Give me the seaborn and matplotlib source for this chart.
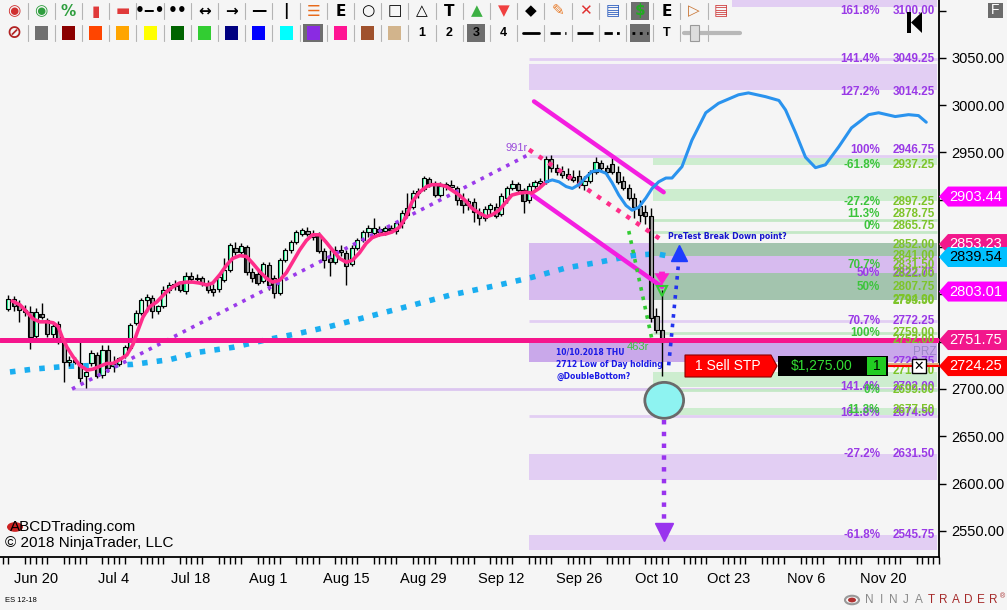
import matplotlib
matplotlib.use('Agg')
import matplotlib.pyplot as plt
import matplotlib.patches as mpatches
import matplotlib.transforms as mtrans
from matplotlib.lines import Line2D
import numpy as np
import pandas as pd
import seaborn as sns

sns.set_theme(style='white')
plt.rcParams['font.family'] = ['Liberation Sans', 'DejaVu Sans']

# ---------------- data (ES 12-18) ----------------
start = pd.Timestamp('2018-06-20')
bar_dates = pd.date_range('2018-06-15', '2018-10-11', freq='D')

opens = [2785, 2795, 2789, 2783, 2781, 2756, 2779, 2773, 2758, 2769,
         2750, 2729, 2731, 2727, 2714, 2727, 2736, 2715, 2741, 2724,
         2726, 2736, 2743, 2770, 2780, 2794, 2796, 2782, 2788, 2805,
         2809, 2812, 2804, 2819, 2816, 2817, 2812, 2806, 2806, 2815,
         2826, 2849, 2845, 2850, 2824, 2822, 2814, 2831, 2817, 2801,
         2836, 2847, 2855, 2864, 2867, 2864, 2862, 2846, 2838, 2834,
         2847, 2844, 2832, 2849, 2857, 2866, 2865, 2869, 2867, 2870,
         2867, 2875, 2884, 2892, 2907, 2911, 2922, 2917, 2905, 2915,
         2916, 2912, 2900, 2894, 2898, 2887, 2881, 2890, 2892, 2885,
         2902, 2912, 2917, 2910, 2900, 2915, 2918, 2919, 2943, 2934,
         2930, 2927, 2924, 2925, 2916, 2920, 2929, 2939, 2934, 2938,
         2929, 2920, 2912, 2902, 2893, 2887, 2883, 2777, 2762]
highs = [2799, 2798, 2794, 2789, 2788, 2786, 2791, 2775, 2771, 2772,
         2752, 2735, 2734, 2754, 2720, 2741, 2739, 2747, 2747, 2735,
         2734, 2747, 2770, 2783, 2796, 2800, 2799, 2789, 2809, 2813,
         2815, 2814, 2824, 2824, 2822, 2819, 2815, 2811, 2821, 2838,
         2854, 2855, 2854, 2852, 2828, 2826, 2834, 2834, 2821, 2838,
         2849, 2857, 2868, 2870, 2871, 2868, 2866, 2849, 2847, 2851,
         2852, 2847, 2852, 2860, 2868, 2873, 2881, 2872, 2872, 2873,
         2878, 2889, 2907, 2910, 2912, 2925, 2924, 2920, 2919, 2919,
         2921, 2915, 2907, 2902, 2902, 2891, 2893, 2897, 2897, 2907,
         2915, 2921, 2919, 2912, 2918, 2921, 2923, 2946, 2947, 2938,
         2936, 2934, 2931, 2931, 2925, 2931, 2945, 2942, 2937, 2947,
         2936, 2925, 2917, 2907, 2900, 2894, 2891, 2786, 2805]
lows = [2782, 2782, 2771, 2777, 2742, 2752, 2774, 2755, 2754, 2748,
        2707, 2724, 2726, 2707, 2701, 2724, 2712, 2712, 2718, 2718,
        2724, 2733, 2741, 2768, 2778, 2781, 2775, 2779, 2786, 2801,
        2805, 2803, 2800, 2813, 2812, 2809, 2801, 2798, 2803, 2813,
        2824, 2842, 2843, 2821, 2813, 2810, 2812, 2805, 2796, 2799,
        2834, 2844, 2853, 2862, 2862, 2857, 2844, 2828, 2819, 2832,
        2841, 2810, 2830, 2847, 2855, 2861, 2863, 2862, 2863, 2865,
        2864, 2870, 2882, 2890, 2902, 2909, 2914, 2903, 2903, 2910,
        2910, 2894, 2886, 2889, 2877, 2873, 2878, 2885, 2881, 2883,
        2897, 2910, 2906, 2886, 2897, 2910, 2915, 2917, 2929, 2926,
        2923, 2921, 2919, 2912, 2910, 2918, 2927, 2929, 2925, 2927,
        2917, 2910, 2900, 2881, 2877, 2874, 2771, 2759, 2714]
closes = [2795, 2788, 2783, 2781, 2755, 2781, 2776, 2758, 2767, 2750,
          2729, 2731, 2729, 2712, 2718, 2738, 2714, 2741, 2722, 2726,
          2733, 2744, 2768, 2780, 2794, 2797, 2782, 2788, 2805, 2810,
          2811, 2805, 2819, 2816, 2817, 2812, 2805, 2803, 2818, 2826,
          2852, 2845, 2851, 2824, 2817, 2812, 2832, 2810, 2801, 2836,
          2847, 2855, 2866, 2868, 2864, 2861, 2846, 2836, 2834, 2847,
          2845, 2830, 2849, 2857, 2866, 2870, 2870, 2866, 2870, 2868,
          2875, 2886, 2891, 2907, 2909, 2923, 2917, 2905, 2915, 2917,
          2914, 2900, 2894, 2899, 2887, 2881, 2890, 2894, 2883, 2904,
          2912, 2917, 2910, 2899, 2915, 2919, 2920, 2943, 2934, 2929,
          2926, 2923, 2921, 2916, 2920, 2929, 2940, 2934, 2929, 2929,
          2919, 2912, 2902, 2892, 2884, 2883, 2775, 2762, 2750]

# pink fast average (days since Jun 20, price)
ema_days = [-4.3, -2.9, -1.6, -0.5, 0.7, 2.0, 3.1, 4.0, 4.7, 5.6, 6.7, 7.9, 9.2, 10.3,
            11.5, 12.8, 13.9, 15.1, 16.4, 17.5, 18.4, 19.3, 20.5, 21.8, 23.6, 24.7,
            25.9, 27.2, 28.3, 29.5, 30.8, 31.9, 33.2, 34.4, 35.5, 36.8, 38.0, 39.1,
            40.4, 41.6, 42.7, 44.0, 45.2, 46.3, 47.6, 48.8, 49.9, 51.2, 52.4, 53.5,
            54.8, 56.0, 57.1, 58.4, 59.6, 60.7, 62.0, 63.2, 64.3, 65.6, 66.8, 67.9,
            69.2, 70.5, 71.5, 72.8, 74.1, 75.1, 76.4, 77.7, 78.7, 80.0, 81.3, 82.3,
            83.6, 84.9, 85.9, 87.2, 88.5, 89.5, 90.8, 92.1]
ema_vals = [2793, 2789, 2781, 2774, 2771, 2771, 2770, 2766, 2755, 2744, 2734, 2725, 2720, 2721,
            2724, 2727, 2727, 2731, 2736, 2747, 2762, 2776, 2787, 2792, 2803, 2808,
            2812, 2813, 2813, 2812, 2810, 2812, 2821, 2831, 2838, 2841, 2840, 2833,
            2824, 2817, 2813, 2815, 2823, 2834, 2847, 2857, 2863, 2863, 2855, 2847,
            2838, 2834, 2836, 2844, 2854, 2860, 2863, 2864, 2866, 2871, 2882, 2898,
            2908, 2914, 2916, 2916, 2914, 2910, 2905, 2898, 2891, 2886, 2882, 2884,
            2889, 2898, 2905, 2907, 2908, 2907, 2912, 2919]

# blue cycle projection
proj_days = [92.1, 93.2, 94.4, 95.7, 96.8, 98.0, 99.3, 100.4, 101.6, 102.9, 104.0, 105.2,
             106.5, 107.6, 108.8, 110.1, 111.2, 112.4, 113.7, 114.8, 116.6, 118.4, 120.9,
             123.2, 126.8, 128.6, 131.7, 134.1, 135.3, 137.1, 138.9, 140.7, 142.5, 144.9,
             147.2, 150.3, 152.1, 155.1, 157.5, 159.3, 160.7]
proj_vals = [2919, 2921, 2919, 2914, 2912, 2916, 2924, 2930, 2931, 2928, 2918, 2905,
             2894, 2889, 2892, 2902, 2912, 2919, 2923, 2923, 2935, 2963, 2992,
             3002, 3011, 3013, 3009, 3005, 2995, 2971, 2945, 2934, 2937, 2956,
             2976, 2990, 2992, 2988, 2990, 2989, 2982]

# light blue dotted slow average
sma_days = [-4.7, -0.5, 5.6, 11.5, 17.5, 24.1, 29.5, 35.5, 41.6, 47.6, 53.0, 65.6,
            74.6, 83.6, 89.5, 95.7, 101.6, 107.6, 111.9, 113.7]
sma_vals = [2718, 2721, 2724, 2725, 2726, 2731, 2739, 2744, 2752, 2759, 2766, 2785,
            2799, 2810, 2818, 2828, 2834, 2841, 2843, 2841]

# drawing tool lines
abcd_days, abcd_vals = [6.5, 89.0], [2700, 2948]
cd_days, cd_vals = [89.0, 113.3], [2953, 2856]
chan_up_days, chan_up_vals = [89.9, 113.3], [3004, 2908]
chan_lo_days, chan_lo_vals = [89.6, 113.0], [2905, 2808]
green_leg_days, green_leg_vals = [107.0, 111.2], [2867, 2752]
retest_days, retest_vals = [114.2, 116.1], [2725, 2840]
target_days, target_vals = [113.3, 113.3], [2667, 2552]

zone_start, green_start, top_start, swing_low_day = 89.0, 111.4, 125.6, 6.5
top_zone = (3103.5, 3115.0)
purple_zones = [(3016.0, 3043.5), (2603.75, 2631.5), (2529.75, 2545.75)]
big_zone = (2794.0, 2854.3)
prz_zone = (2728.5, 2748.6)
purple_lines = [3049.25, 2946.75, 2772.25, 2671.0]
swing_low = 2700.0
green_zones = [(2937.25, 2944.0), (2898.5, 2911.0), (2702.0, 2718.0), (2672.5, 2680.0)]
green_dark = [(2841.0, 2854.3), (2794.0, 2822.6)]
green_lines = [2878.75, 2865.75, 2759.0, 2699.0]
pink_level = 2751.75
order_level = 2724.25

purple_fibs = [('161.8%', 3100.00), ('141.4%', 3049.25), ('127.2%', 3014.25), ('100%', 2946.75),
               ('50%', 2822.75), ('70.7%', 2772.25), ('', 2728.75), ('141.4%', 2702.00),
               ('161.8%', 2674.50), ('-27.2%', 2631.50), ('-61.8%', 2545.75)]
green_fibs = [('-61.8%', 2937.25), ('-27.2%', 2897.25), ('11.3%', 2878.75), ('0%', 2865.75),
              ('', 2852.00), ('', 2841.00), ('70.7%', 2831.50), ('', 2822.00), ('50%', 2807.75),
              ('', 2794.00), ('', 2793.50), ('100%', 2759.00), ('', 2752.00), ('', 2719.50),
              ('0%', 2699.00), ('11.3%', 2677.50)]
labels_above = [2946.75, 2878.75, 2865.75]

tag_vals = [2903.44, 2853.23, 2839.54, 2803.01, 2751.75, 2724.25]
tag_fill = ['#FF00FF', '#F2178C', '#00BFFF', '#FF00FF', '#F2178C', '#FF0000']
tag_ink = ['white', 'white', 'black', 'white', 'white', 'white']

tick_dates = ['2018-06-20', '2018-07-04', '2018-07-18', '2018-08-01', '2018-08-15', '2018-08-29',
              '2018-09-12', '2018-09-26', '2018-10-10', '2018-10-23', '2018-11-06', '2018-11-20']
tick_labels = ['Jun 20', 'Jul 4', 'Jul 18', 'Aug 1', 'Aug 15', 'Aug 29',
               'Sep 12', 'Sep 26', 'Oct 10', 'Oct 23', 'Nov 6', 'Nov 20']

# ---------------- figure ----------------
BG = '#F5F5F5'
W, H = 1007, 610
fig = plt.figure(figsize=(W / 100, H / 100), dpi=100, facecolor=BG)
ax = fig.add_axes([0, 53 / H, 939 / W, 557 / H])
ax.set_facecolor(BG)
x0, x1 = -6.5, 162.7
y0, y1 = 2522.4, 3111.2
ax.set_xlim(x0, x1)
ax.set_ylim(y0, y1)
ppu = 557 / (y1 - y0)

LAV, LAV2, LAV3 = '#E2CEF3', '#D7BBEF', '#C9A8EA'
LGREEN, GGRAY = '#CDEDCF', '#A3C4AE'
PURP, GRN, GRN2 = '#9A3AE6', '#3CC43C', '#7DC42A'
PINK = '#FF2D8A'


def zone(lo, hi, left, color, z=1):
    ax.fill_between([left, x1], [lo, lo], [hi, hi], color=color, lw=0, zorder=z)


zone(*top_zone, top_start, LAV)
for lo, hi in purple_zones:
    zone(lo, hi, zone_start, LAV)
zone(*big_zone, zone_start, LAV2)
zone(*prz_zone, zone_start, LAV3)
for lo, hi in green_zones:
    zone(lo, hi, green_start, LGREEN, 1.2)
for lo, hi in green_dark:
    zone(lo, hi, green_start, GGRAY, 1.3)
for v in purple_lines:
    ax.hlines(v, zone_start, x1, color=LAV, lw=2, zorder=1.4)
ax.hlines(swing_low, swing_low_day, x1, color='#DCC6F0', lw=2, zorder=1.4)
for v in green_lines:
    ax.hlines(v, green_start, x1, color='#C4E8C6', lw=2, zorder=1.4)

# slow average under the bars
sns.lineplot(x=sma_days, y=sma_vals, ax=ax, color='#1AAEF0', lw=4, linestyle=':',
             sort=False, estimator=None, zorder=2)

# candles: two-tone bodies imitate the platform's gradient fill
days = (bar_dates - start).days.values
o, h, l, c = (np.array(a, dtype=float) for a in (opens, highs, lows, closes))
up = c >= o
bw = 0.76
ax.vlines(days, l, h, color='black', lw=1, zorder=3)
for mask, dark, light in [(up, '#1EEB8C', '#D8FCEA'), (~up, '#1C1C1C', '#A8A8A8')]:
    lo_b = np.minimum(o[mask], c[mask])
    ht = np.abs(c[mask] - o[mask])
    ax.bar(days[mask] - bw / 4, ht, bottom=lo_b, width=bw / 2, color=dark, lw=0, zorder=3.4)
    ax.bar(days[mask] + bw / 4, ht, bottom=lo_b, width=bw / 2, color=light, lw=0, zorder=3.4)
    ax.bar(days[mask], ht, bottom=lo_b, width=bw, fill=False, edgecolor='black', lw=0.8, zorder=3.5)

sns.lineplot(x=ema_days, y=ema_vals, ax=ax, color=PINK, lw=2.6, sort=False, estimator=None, zorder=5)
sns.lineplot(x=proj_days, y=proj_vals, ax=ax, color='#2A93EE', lw=2.2, sort=False, estimator=None, zorder=5)

ax.axhline(pink_level, color='#F5158C', lw=3.6, zorder=4.5)
ax.plot(abcd_days, abcd_vals, ':', color='#9B3BEA', lw=2.6, zorder=4)
ax.plot(cd_days, cd_vals, ':', color=PINK, lw=3.2, zorder=4)
ax.plot(chan_up_days, chan_up_vals, color='#F41EE0', lw=3.2, zorder=4)
ax.plot(chan_lo_days, chan_lo_vals, color='#F41EE0', lw=3.2, zorder=4)
ax.plot(green_leg_days, green_leg_vals, ':', color='#33CC33', lw=2.6, zorder=4)
ax.plot(retest_days, retest_vals, ':', color='#2233EE', lw=2.6, zorder=6)
ax.plot(retest_days[-1], retest_vals[-1] + 4, marker='^', ms=11, color='#1E3CFF', zorder=6)
ax.plot(target_days, target_vals, ':', color='#9933EE', lw=3.2, zorder=6)
ax.plot(target_days[-1], target_vals[-1] - 3, marker='v', ms=13, color='#9933EE', zorder=6)
ax.annotate('', xy=(113.0, 2807), xytext=(113.0, 2827),
            arrowprops=dict(arrowstyle='simple,head_width=0.9,head_length=0.7,tail_width=0.35',
                            color='#FF1ECF', lw=0), zorder=7)
ax.plot(113.0, 2804, marker='v', ms=7, mfc='none', mec='#33CC33', mew=1.5, zorder=7)
ax.add_patch(mpatches.Ellipse((113.4, 2688), 7.0, 38, facecolor='#8EF3F1',
                              edgecolor='#6A6A6A', lw=2, zorder=7))

cond = dict(family='DejaVu Sans', fontstretch='condensed', fontweight='bold')
ax.text(86.7, 2955, '991r', color='#9B4DDB', fontsize=8, ha='center', va='center', zorder=6)
ax.text(110.6, 2744, '463r', color='#3CC43C', fontsize=8, ha='right', va='center', zorder=6)
ax.text(114.1, 2861, 'PreTest Break Down point?', color='#1515CC', fontsize=6.2,
        ha='left', va='center', zorder=8, **cond)
for yy, s in zip([2739, 2726, 2713],
                 ['10/10.2018 THU', '2712 Low of Day holding', '@DoubleBottom?']):
    ax.text(93.9, yy, s, color='#1A1AE6', fontsize=6.1, ha='left', va='center', zorder=8, **cond)

yax = ax.get_yaxis_transform()
for fibs, c1, c2 in [(purple_fibs, PURP, PURP), (green_fibs, GRN, GRN2)]:
    for pct, lvl in fibs:
        va = 'bottom' if lvl in labels_above else 'center'
        ax.text(880 / 939, lvl, pct, transform=yax, ha='right', va=va, color=c1,
                fontsize=8.4, fontweight='bold', zorder=6)
        ax.text(935 / 939, lvl, f'{lvl:.2f}', transform=yax, ha='right', va=va, color=c2,
                fontsize=8.4, fontweight='bold', zorder=6)
ax.text(937 / 939, 2739, 'PRZ', transform=yax, ha='right', va='center', color='#9C86C8',
        fontsize=8.5, zorder=6)
ax.axhline(order_level + 1.8, xmin=886 / 939, color='#E0B080', lw=1.5, zorder=6)
ax.axhline(order_level, xmin=886 / 939, color='#FF0000', lw=1.5, zorder=6)

# axes
for s in ['top', 'left']:
    ax.spines[s].set_visible(False)
for s in ['bottom', 'right']:
    ax.spines[s].set_color('black')
    ax.spines[s].set_linewidth(1.3)
ax.yaxis.tick_right()
yt = np.arange(2550, 3101, 50)
ax.set_yticks(yt)
ax.set_yticklabels([f'{v:.2f}' if v < 3100 else '' for v in yt])
tick_pos = [(pd.Timestamp(d) - start).days for d in tick_dates]
ax.set_xticks(tick_pos)
ax.set_xticklabels(tick_labels)
minor = pd.bdate_range('2018-06-14', '2018-12-01')
ax.set_xticks((minor - start).days.values, minor=True)
ax.tick_params(axis='y', right=True, left=False, direction='out', length=5, width=1,
               color='black', labelsize=10.5, pad=4, labelcolor='black')
ax.tick_params(axis='x', which='both', bottom=True, direction='out', length=5, width=1,
               color='black', labelsize=10.5, pad=6, labelcolor='black')
ax.grid(False)

# price tags on the right axis
ttr = mtrans.blended_transform_factory(fig.transFigure, ax.transData)
dy = 10 / ppu
for v, fc, tc in zip(tag_vals, tag_fill, tag_ink):
    pts = [(939 / W, v), (948 / W, v + dy), (1007 / W, v + dy), (1007 / W, v - dy), (948 / W, v - dy)]
    fig.add_artist(mpatches.Polygon(pts, closed=True, transform=ttr, facecolor=fc,
                                    edgecolor='none', zorder=10))
    fig.text(976 / W, v, f'{v:.2f}', transform=ttr, color=tc, fontsize=10.5,
             ha='center', va='center', zorder=11)


# ---------------- chrome in pixel coordinates ----------------
def px(x, y):
    return x / W, 1 - y / H


def box(xa, ya, xb, yb, fc, ec='none', lw=0, z=20):
    fig.add_artist(mpatches.Rectangle(px(xa, yb), (xb - xa) / W, (yb - ya) / H,
                                      transform=fig.transFigure, facecolor=fc,
                                      edgecolor=ec, lw=lw, zorder=z))


def poly(pts, fc, ec='none', lw=0, z=20):
    fig.add_artist(mpatches.Polygon([px(*p) for p in pts], closed=True,
                                    transform=fig.transFigure, facecolor=fc,
                                    edgecolor=ec, lw=lw, zorder=z))


def label(x, y, s, **kw):
    kw.setdefault('ha', 'center')
    kw.setdefault('va', 'center')
    kw.setdefault('zorder', 22)
    fig.text(*px(x, y), s, **kw)


def seg(xa, ya, xb, yb, **kw):
    kw.setdefault('zorder', 21)
    fig.add_artist(Line2D([xa / W, xb / W], [1 - ya / H, 1 - yb / H],
                          transform=fig.transFigure, **kw))


# order widget
poly([(685, 355), (771, 355), (777, 366), (771, 377), (685, 377)], '#FF0000', '#8B0000', 0.8)
label(728, 366, '1 Sell STP', color='white', fontsize=10)
box(778, 356, 888, 376, 'black')
label(822, 366, '$1,275.00', color='#33DD33', fontsize=10)
box(867, 357, 886, 375, '#22CC22')
label(876.5, 366, '1', color='black', fontsize=10)
box(912, 359, 926, 373, 'white', 'black', 1)
label(919, 366, '✕', color='black', fontsize=9, fontweight='bold', family='DejaVu Sans')

# toolbar
xs = 14 + 27.2 * np.arange(27)
row1 = ['◉', '◉', '%', '▮', '▬', '•‒•', '••', '↔', '→', '—', '|', '☰', 'E', '○', '□', '△',
        'T', '▲', '▼', '◆', '✎', '✕', '▤', '$', 'E', '▷', '▤']
row1_col = ['#D03030', '#2E9E3E', '#2E9E3E', '#E03A3A', '#E03A3A', 'black', 'black', 'black',
            'black', 'black', 'black', '#E86A1A', 'black', 'black', 'black', 'black', 'black',
            '#3CB043', '#F04040', 'black', '#E87722', '#E03030', '#3060C0', '#22AA22', 'black',
            '#C87533', '#D04040']
box(xs[23] - 9, 2, xs[23] + 9, 20, '#6E6E6E')
for x, g, col in zip(xs, row1, row1_col):
    label(x, 11, g, color=col, fontsize=11, fontweight='bold', family='DejaVu Sans')
for x in xs[:-1]:
    seg(x + 13.6, 3, x + 13.6, 19, color='#B4B4B4', lw=0.8)
    seg(x + 13.6, 25, x + 13.6, 41, color='#B4B4B4', lw=0.8)

swatches = ['#707070', '#8B0000', '#FF4500', '#FFA500', '#FFFF00', '#006400', '#32CD32',
            '#000080', '#0000FF', '#00FFFF', '#8A2BE2', '#FF1493', '#A0522D', '#D2B48C']
label(xs[0], 33, '⊘', color='#B22222', fontsize=13, fontweight='bold', family='DejaVu Sans')
box(xs[11] - 10, 24, xs[11] + 10, 42, '#6E6E6E')
for x, col in zip(xs[1:15], swatches):
    box(x - 6.5, 26, x + 6.5, 40, col, z=21)
box(xs[17] - 9, 24, xs[17] + 9, 42, '#6E6E6E')
for x, s in zip(xs[15:19], ['1', '2', '3', '4']):
    label(x, 33, s, color='black', fontsize=9, fontweight='bold')
box(xs[23] - 10, 24, xs[23] + 10, 42, '#6E6E6E')
for x, ls in zip(xs[19:24], ['-', '--', '-.', (0, (3, 1.5, 1, 1.5, 1, 1.5)), ':']):
    seg(x - 8, 33, x + 8, 33, color='black', lw=2, linestyle=ls, zorder=22)
label(xs[24], 33, 'T', color='black', fontsize=9, fontweight='bold')
seg(684, 33, 740, 33, color='#B8B8B8', lw=3)
box(690, 25, 699, 41, '#DDDDDD', '#999999', 0.8, z=22)

# top-right icons
box(907, 12, 911, 33, 'black')
poly([(911, 22.5), (922, 12), (922, 33)], 'black')
box(988, 3, 1003, 18, '#6B6B6B')
label(995.5, 10.5, 'F', color='white', fontsize=10)

# watermarks / footer
fig.add_artist(mpatches.Circle(px(15, 527), 8 / W, transform=fig.transFigure,
                               facecolor='#CC2222', edgecolor='none', zorder=20))
label(10, 527, 'ABCDTrading.com', ha='left', color='black', fontsize=11)
label(5, 543, '© 2018 NinjaTrader, LLC', ha='left', color='black', fontsize=11)
label(5, 600, 'ES 12-18', ha='left', color='black', fontsize=5.5)
fig.add_artist(mpatches.Circle(px(852, 600), 7 / W, transform=fig.transFigure,
                               facecolor='none', edgecolor='#999999', lw=1.5, zorder=20))
fig.add_artist(mpatches.Circle(px(852, 600), 4 / W, transform=fig.transFigure,
                               facecolor='#B03030', edgecolor='none', zorder=20))
for i, ch in enumerate('NINJATRADER'):
    label(869 + 12.4 * i, 600, ch, color='#8A8A8A' if i < 5 else '#A52A2A', fontsize=8.5)
label(1003, 597, '®', color='#A52A2A', fontsize=5)

fig.savefig('out.png', dpi=100, facecolor=BG)
